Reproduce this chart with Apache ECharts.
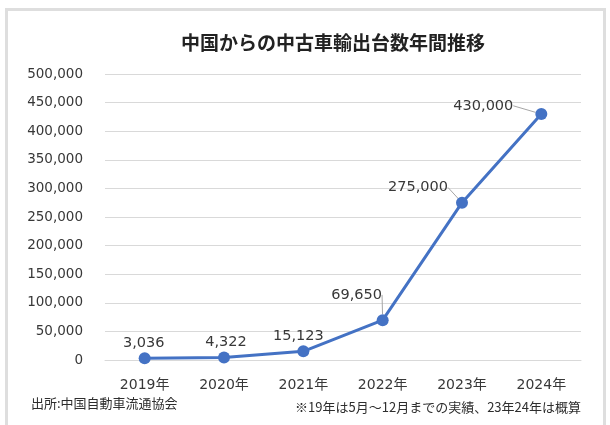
<!DOCTYPE html>
<html>
<head>
<meta charset="utf-8">
<style>
  html, body { margin: 0; padding: 0; background: #ffffff; }
  #chart { width: 610px; height: 425px; }
</style>
<script src="https://cdn.jsdelivr.net/npm/echarts@6/dist/echarts.min.js"></script>
</head>
<body>
<div id="chart"></div>
<script>
// Annual used-car exports from China
const years = ['2019年', '2020年', '2021年', '2022年', '2023年', '2024年'];
const exportsCount = [3036, 4322, 15123, 69650, 275000, 430000];
const yTicks = { min: 0, max: 500000, step: 50000 };

const titleText = '中国からの中古車輸出台数年間推移';
const sourceNote = '出所:中国自動車流通協会';
const remarkNote = '※19年は5月～12月までの実績、23年24年は概算';

// label nudges (px) relative to the default "top" placement, and which get a leader line
const labelNudge = [[-1, 0], [2, 0], [-5, 0], [-26, -10], [-44, 0], [-58, 7]];
const leaderShown = [false, false, false, true, true, true];

const fontStack = "'DejaVu Sans', 'Noto Sans CJK JP', sans-serif";
const textColor = '#383838';
const gridColor = '#d9d9d9';
const lineColor = '#4472C4';

const chart = echarts.init(document.getElementById('chart'), null, { renderer: 'canvas' });

const fmt = v => v.toLocaleString('en-US');

chart.setOption({
  backgroundColor: '#ffffff',
  animation: false,
  title: {
    text: titleText,
    left: 328,
    top: 28,
    textAlign: 'center',
    textStyle: {
      fontFamily: "'Noto Sans CJK JP', sans-serif",
      fontSize: 19,
      fontWeight: 'bold',
      color: '#222222'
    }
  },
  graphic: [
    {
      type: 'rect',
      silent: true,
      z: -10,
      shape: { x: 6.5, y: 9.5, width: 598, height: 430 },
      style: { fill: 'none', stroke: '#dedede', lineWidth: 3 }
    },
    {
      type: 'text',
      left: 31,
      top: 397,
      style: {
        text: sourceNote,
        fill: '#2e2e2e',
        font: "13px 'Noto Sans CJK JP', sans-serif"
      }
    },
    {
      type: 'text',
      right: 29,
      top: 401,
      style: {
        text: remarkNote,
        fill: '#2e2e2e',
        font: "13px 'Noto Sans CJK JP', sans-serif"
      }
    }
  ],
  grid: { left: 105, right: 29, top: 74, bottom: 65 },
  xAxis: {
    type: 'category',
    data: years,
    boundaryGap: true,
    axisLine: { show: true, lineStyle: { color: gridColor, width: 1 } },
    axisTick: { show: false },
    axisLabel: {
      margin: 18,
      fontFamily: fontStack,
      fontSize: 14,
      color: textColor
    }
  },
  yAxis: {
    type: 'value',
    min: yTicks.min,
    max: yTicks.max,
    interval: yTicks.step,
    axisLine: { show: false },
    axisTick: { show: false },
    splitLine: { lineStyle: { color: gridColor, width: 1 } },
    axisLabel: {
      margin: 22,
      fontFamily: fontStack,
      fontSize: 13.5,
      color: textColor,
      formatter: v => fmt(v)
    }
  },
  series: [
    {
      type: 'line',
      data: exportsCount.map((v, i) => ({
        value: v,
        labelLine: { show: leaderShown[i] }
      })),
      symbol: 'circle',
      symbolSize: 12,
      lineStyle: { color: lineColor, width: 3 },
      itemStyle: { color: lineColor },
      label: {
        show: true,
        position: 'top',
        distance: 2,
        fontFamily: fontStack,
        fontSize: 14.5,
        color: textColor,
        formatter: p => fmt(p.value)
      },
      labelLine: {
        lineStyle: { color: '#a6a6a6', width: 1 }
      },
      labelLayout: p => ({ dx: labelNudge[p.dataIndex][0], dy: labelNudge[p.dataIndex][1] })
    }
  ]
});
</script>
</body>
</html>
